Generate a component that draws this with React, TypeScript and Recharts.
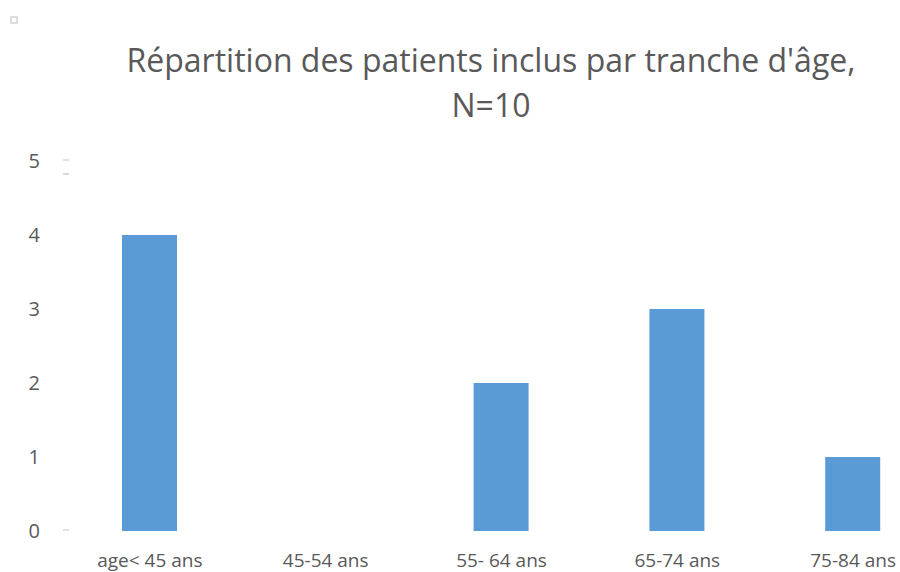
import { BarChart, Bar, XAxis, YAxis } from "recharts";

const categories = ["age< 45 ans", "45-54 ans", "55- 64 ans", "65-74 ans", "75-84 ans"];
const patients = [4, 0, 2, 3, 1];
const yTicks = [0, 1, 2, 3, 4, 5];
const titleLines = ["Répartition des patients inclus par tranche d'âge,", "N=10"];

const data = categories.map((name, i) => ({ name, value: patients[i] }));

const FONT = "'Open Sans', sans-serif";
const TEXT = "#595959";

const YTick = (props: any) => {
  const { x, y, payload } = props;
  const v = payload.value;
  return (
    <g>
      <text x={x} y={y} dy="0.35em" textAnchor="end" fill={TEXT} fontSize={20} fontFamily={FONT}>
        {v}
      </text>
      {(v === 0 || v === 5) && (
        <line x1={x + 23} x2={x + 29} y1={y - 1} y2={y - 1} stroke="#d9d9d9" strokeWidth={1.5} />
      )}
      {v === 5 && (
        <line x1={x + 23} x2={x + 29} y1={y + 13} y2={y + 13} stroke="#d9d9d9" strokeWidth={2} />
      )}
    </g>
  );
};

export default function App() {
  return (
    <div
      style={{
        position: "fixed",
        left: 0,
        top: 0,
        width: 900,
        height: 572,
        overflow: "hidden",
        background: "#fff",
      }}
    >
      <BarChart
        width={948}
        height={572}
        data={data}
        margin={{ top: 161, right: 7, bottom: 0, left: 0 }}
        barSize={55}
      >
        <XAxis
          dataKey="name"
          axisLine={false}
          tickLine={false}
          tickSize={0}
          tickMargin={23}
          height={41}
          interval={0}
          tick={{ fill: TEXT, fontSize: 19, fontFamily: FONT }}
        />
        <YAxis
          domain={[0, 5]}
          ticks={yTicks}
          axisLine={false}
          tickLine={false}
          tickSize={0}
          tickMargin={22}
          width={62}
          tick={<YTick />}
        />
        <Bar dataKey="value" fill="#5B9BD5" isAnimationActive={false} />
      </BarChart>
      <svg
        width={900}
        height={572}
        style={{ position: "absolute", left: 0, top: 0, pointerEvents: "none" }}
      >
        <rect x={11} y={17} width={6} height={6} fill="none" stroke="#d4d4d4" strokeWidth={1.5} />
        {titleLines.map((t, i) => (
          <text
            key={i}
            x={491}
            y={72 + i * 45}
            textAnchor="middle"
            fill={TEXT}
            fontSize={32}
            fontFamily={FONT}
          >
            {t}
          </text>
        ))}
      </svg>
    </div>
  );
}
